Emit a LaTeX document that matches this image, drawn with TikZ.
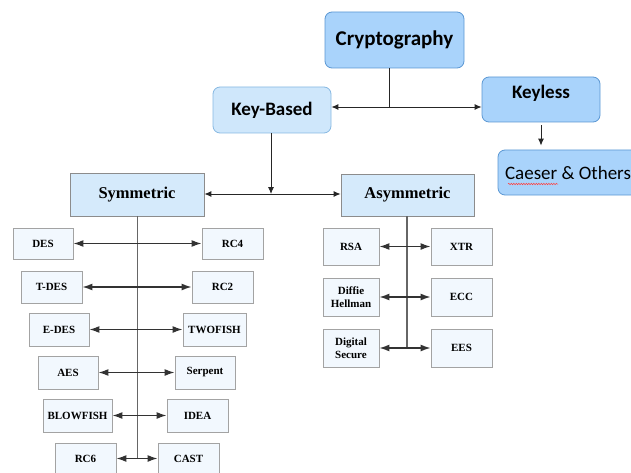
\documentclass[tikz,border=0pt]{standalone}
\usepackage{fontspec}
\setmainfont{Liberation Serif}
\newfontfamily\calibri{Carlito}
\usepackage{tikz}
\usetikzlibrary{arrows.meta,decorations.pathmorphing}

\definecolor{topblue}{HTML}{A9D3FB}
\definecolor{topline}{HTML}{5B97D3}
\definecolor{midblue}{HTML}{CFE7FB}
\definecolor{midline}{HTML}{86B8E2}
\definecolor{famblue}{HTML}{D5EAFB}
\definecolor{famline}{HTML}{8C8C8C}
\definecolor{algofill}{HTML}{F2F8FE}
\definecolor{algoline}{HTML}{A3A3A3}

\tikzset{Small/.tip={Latex[length=7pt, width=6pt]}, Big/.tip={Latex[length=10pt, width=7pt]}}

\begin{document}
\begin{tikzpicture}[x=1pt, y=-1pt]
		\tikzstyle{Top}		= [rectangle, rounded corners=7pt, draw=topline, fill=topblue, line width=0.8pt, inner sep=0pt, font=\calibri\bfseries\fontsize{19}{21}\selectfont]
		\tikzstyle{Mid}		= [Top, draw=midline, fill=midblue]
		\tikzstyle{Family}	= [rectangle, draw=famline, fill=famblue, line width=0.8pt, inner sep=0pt, minimum height=43pt, font=\bfseries\fontsize{16.5}{18}\selectfont]
		\tikzstyle{Algo}	= [rectangle, draw=algoline, fill=algofill, line width=0.8pt, inner sep=0pt, align=center, font=\bfseries\fontsize{11}{13}\selectfont]
		\tikzstyle{Link}	= [black!85, line width=0.9pt]
		\tikzstyle{Pair}	= [black!80, line width=1.4pt]
		\tikzstyle{Trunk}	= [black!60, line width=1pt]

		\useasboundingbox (0,0) rectangle (631,473);
		\clip (0,0) rectangle (631,473);

		\node (crypto) at (394.5, 40) [Top][minimum width=139pt, minimum height=56pt, font=\calibri\bfseries\fontsize{21}{23}\selectfont]{Cryptography};
		\node (keybased) at (272, 110) [Mid][minimum width=118pt, minimum height=46pt]{Key-Based};
		\node (keyless) at (541, 99.5) [Top][minimum width=118pt, minimum height=45pt, text depth=16pt]{Keyless};
		\node (caeser) at (568, 172.5) [Top][minimum width=140pt, minimum height=45pt, font=\calibri\fontsize{19}{21}\selectfont]{Caeser \& Others};

		\node (sym) at (137, 194.5) [Family][minimum width=134pt]{Symmetric};
		\node (asym) at (407.5, 195) [Family][minimum width=133pt, minimum height=42pt]{Asymmetric};

		% symmetric side
		\node (des) at (43, 243.5) [Algo][minimum width=60pt, minimum height=31pt]{DES};
		\node (rc4) at (232.5, 243.5) [Algo][minimum width=61pt, minimum height=31pt]{RC4};
		\node (tdes) at (51.5, 287) [Algo][minimum width=61pt, minimum height=32pt]{T-DES};
		\node (rc2) at (222.5, 287) [Algo][minimum width=61pt, minimum height=32pt]{RC2};
		\node (edes) at (59, 329.5) [Algo][minimum width=60pt, minimum height=33pt]{E-DES};
		\node (twofish) at (214.5, 329.5) [Algo][minimum width=63pt, minimum height=33pt]{TWOFISH};
		\node (aes) at (68, 372.5) [Algo][minimum width=60pt, minimum height=33pt]{AES};
		\node (serpent) at (205, 372.5) [Algo][minimum width=60pt, minimum height=33pt]{Serpent};
		\node (blowfish) at (77.5, 415.5) [Algo][minimum width=69pt, minimum height=33pt]{BLOWFISH};
		\node (idea) at (197.5, 415.5) [Algo][minimum width=61pt, minimum height=33pt]{IDEA};
		\node (rc6) at (85.5, 458.5) [Algo][minimum width=61pt, minimum height=31pt]{RC6};
		\node (cast) at (188.5, 458.5) [Algo][minimum width=61pt, minimum height=31pt]{CAST};

		% asymmetric side
		\node (rsa) at (351, 246.5) [Algo][minimum width=56pt, minimum height=37pt]{RSA};
		\node (xtr) at (461.5, 246.5) [Algo][minimum width=61pt, minimum height=37pt]{XTR};
		\node (diffie) at (351, 297) [Algo][minimum width=56pt, minimum height=38pt, font=\bfseries\fontsize{11}{13}\selectfont]{Diffie\\Hellman};
		\node (ecc) at (461.5, 297) [Algo][minimum width=61pt, minimum height=38pt]{ECC};
		\node (digital) at (351, 348) [Algo][minimum width=56pt, minimum height=38pt, font=\bfseries\fontsize{11}{13}\selectfont]{Digital\\Secure};
		\node (ees) at (461.5, 348) [Algo][minimum width=61pt, minimum height=38pt]{EES};

		\coordinate (topsplit) at (389, 107);
		\coordinate (midsplit) at (271, 194);
		\coordinate (symend) at (137, 458.5);
		\coordinate (asymend) at (407, 348);

		\draw [-] (crypto.south -| topsplit) to (topsplit) [Link];
		\draw [Small-Small] (keybased.east |- topsplit) to (keyless.west |- topsplit) [Link];
		\draw [-Small, shorten <=3pt, shorten >=4pt] (keyless.south) to (keyless.south |- caeser.north) [Link];
		\draw [-Small] (keybased.south -| midsplit) to (midsplit) [Link];
		\draw [Small-Small] (sym.east |- midsplit) to (asym.west |- midsplit) [Link];

		\draw [-] (sym.south) to (symend) [Trunk];
		\draw [-] (asym.south -| asymend) to (asymend) [Trunk, line width=1.4pt];

		\draw [Big-Big] (des) to (rc4) [Pair];
		\draw [Big-Big] (tdes) to (rc2) [Pair];
		\draw [Big-Big] (edes) to (twofish) [Pair];
		\draw [Big-Big] (aes) to (serpent) [Pair];
		\draw [Big-Big] (blowfish) to (idea) [Pair];
		\draw [Big-Big] (rc6) to (cast) [Pair];
		\draw [Big-Big] (rsa) to (xtr) [Pair];
		\draw [Big-Big] (diffie) to (ecc) [Pair];
		\draw [Big-Big] (digital) to (ees) [Pair];

		\draw [red!75, line width=0.5pt, decorate, decoration={snake, amplitude=0.7pt, segment length=2.5pt}] (508, 184) -- (558, 184);
	\end{tikzpicture}
\end{document}
